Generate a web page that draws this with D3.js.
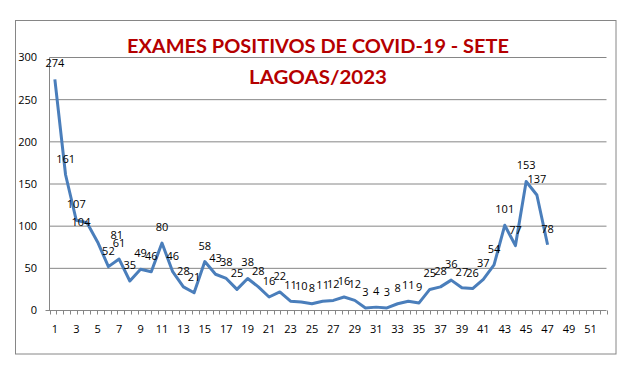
<!DOCTYPE html>
<html>
<head>
<meta charset="utf-8">
<script src="https://cdn.jsdelivr.net/npm/d3@7"></script>
<style>
  body { margin: 0; background: #fff; }
  text { font-family: "Open Sans", "Noto Sans", sans-serif; }
</style>
</head>
<body>
<svg id="chart" width="630" height="371"></svg>
<script>
// chart data
const titleLines = ['EXAMES POSITIVOS DE COVID-19 - SETE', 'LAGOAS/2023'];
const weeks = [1,2,3,4,5,6,7,8,9,10,11,12,13,14,15,16,17,18,19,20,21,22,23,24,25,26,
               27,28,29,30,31,32,33,34,35,36,37,38,39,40,41,42,43,44,45,46,47,48,49,50,51,52];
const positives = [274,161,107,104,81,52,61,35,49,46,80,46,28,21,58,43,38,25,38,28,16,22,11,10,
                   8,11,12,16,12,3,4,3,8,11,9,25,28,36,27,26,37,54,101,77,153,137,78];
const yTicks = [0, 50, 100, 150, 200, 250, 300];

// a couple of labels were moved by hand in the original
const labelNudge = { 4: [-6, 15], 5: [19, 9] };

const svg = d3.select('#chart');
const grid = '#868686';

// outer frame
svg.append('rect')
    .attr('x', 15.5).attr('y', 20.5)
    .attr('width', 600.5).attr('height', 333.5)
    .attr('fill', 'none').attr('stroke', grid);

const plot = { left: 49.5, right: 606.5, top: 57.5, bottom: 310.5 };

const x = d3.scaleBand()
    .domain(weeks)
    .range([plot.left, plot.right]);

const y = d3.scaleLinear()
    .domain([0, 300])
    .range([plot.bottom, plot.top]);

// horizontal gridlines
svg.append('g').selectAll('line')
    .data(yTicks.filter(d => d > 0))
    .enter().append('line')
      .attr('x1', plot.left).attr('x2', plot.right)
      .attr('y1', d => y(d)).attr('y2', d => y(d))
      .attr('stroke', grid);

// y axis line + labels
svg.append('line')
    .attr('x1', plot.left).attr('x2', plot.left)
    .attr('y1', plot.top).attr('y2', plot.bottom)
    .attr('stroke', grid);

svg.append('g').selectAll('text')
    .data(yTicks)
    .enter().append('text')
      .attr('x', 37)
      .attr('y', d => y(d))
      .attr('dy', '0.35em')
      .attr('text-anchor', 'end')
      .style('font-size', '11px')
      .text(d => d);

// x axis line, tick marks and labels
svg.append('line')
    .attr('x1', plot.left - 4).attr('x2', plot.right)
    .attr('y1', plot.bottom).attr('y2', plot.bottom)
    .attr('stroke', grid);

const tickCount = 82;
const tickPos = d3.scaleLinear().domain([0, tickCount]).range([plot.left, plot.right]);
svg.append('g').selectAll('line')
    .data(d3.range(tickCount + 1))
    .enter().append('line')
      .attr('x1', d => Math.round(tickPos(d)) + 0.5)
      .attr('x2', d => Math.round(tickPos(d)) + 0.5)
      .attr('y1', plot.bottom).attr('y2', plot.bottom + 4)
      .attr('stroke', grid);

svg.append('g').selectAll('text')
    .data(weeks.filter(d => d % 2 === 1))
    .enter().append('text')
      .attr('x', d => x(d) + x.bandwidth() / 2)
      .attr('y', plot.bottom + 22)
      .attr('text-anchor', 'middle')
      .style('font-size', '11px')
      .text(d => d);

// series line
const series = positives.map((v, i) => ({ week: weeks[i], value: v }));
const cx = d => x(d.week) + x.bandwidth() / 2;

svg.append('path')
    .datum(series)
    .attr('fill', 'none')
    .attr('stroke', '#4a7ebb')
    .attr('stroke-width', 3)
    .attr('stroke-linejoin', 'round')
    .attr('d', d3.line().x(cx).y(d => y(d.value)));

// data labels (above the point)
svg.append('g').selectAll('text')
    .data(series)
    .enter().append('text')
      .attr('x', d => cx(d) + (labelNudge[d.week] ? labelNudge[d.week][0] : 0))
      .attr('y', d => y(d.value) - 12 + (labelNudge[d.week] ? labelNudge[d.week][1] : 0))
      .attr('text-anchor', 'middle')
      .style('font-size', '11px')
      .text(d => d.value);

// title
svg.append('g').selectAll('text')
    .data(titleLines)
    .enter().append('text')
      .attr('x', 318)
      .attr('y', (d, i) => 53 + i * 31)
      .attr('text-anchor', 'middle')
      .attr('textLength', (d, i) => i === 0 ? 382 : 138)
      .attr('lengthAdjust', 'spacingAndGlyphs')
      .style('font-family', 'Lato, "Open Sans", sans-serif')
      .style('font-weight', 'bold')
      .style('font-size', '19px')
      .style('fill', '#b50000')
      .text(d => d);
</script>
</body>
</html>
